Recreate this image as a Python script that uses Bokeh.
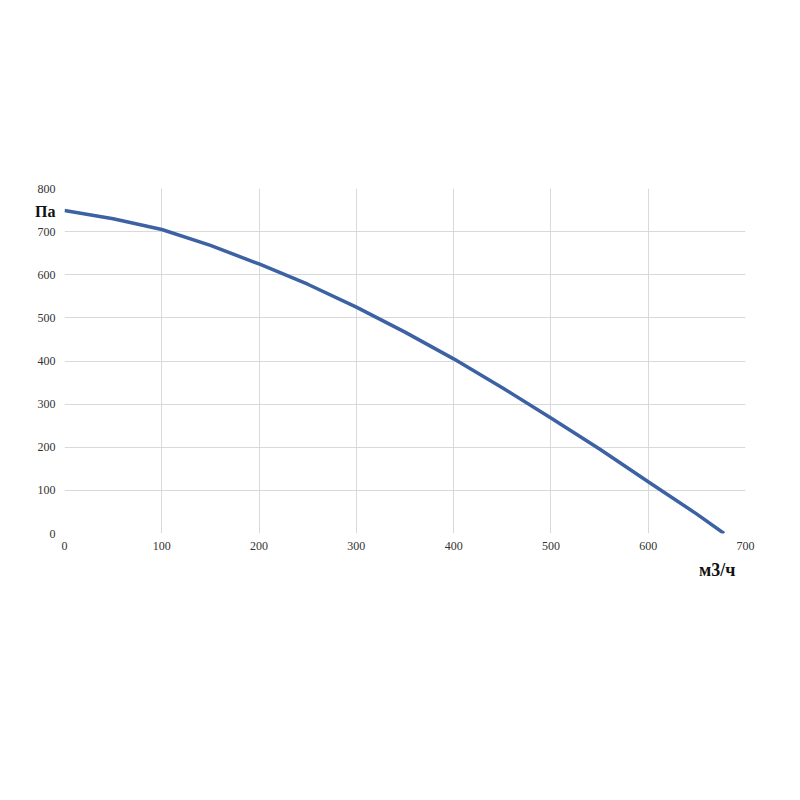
from bokeh.plotting import figure
from bokeh.models import FixedTicker, Range1d, Title, LinearAxis
from bokeh.embed import file_html
from bokeh.resources import INLINE

flow = [0, 50, 100, 150, 200, 250, 300, 350, 400, 450, 500, 550, 600, 650, 678]
pressure = [749, 730, 705, 668, 625, 578, 525, 467, 405, 338, 268, 196, 120, 45, 0]
x_ticks = [0, 100, 200, 300, 400, 500, 600, 700]
y_ticks = [0, 100, 200, 300, 400, 500, 600, 700, 800]
y_unit_label = "Па"
x_unit_label = "м3/ч"

p = figure(width=784, height=784, output_backend="svg", toolbar_location=None,
           x_range=Range1d(0, 700), y_range=Range1d(0, 800),
           min_border_left=64, min_border_right=39, min_border_top=188, min_border_bottom=251)
p.outline_line_color = None
p.background_fill_color = "white"
p.border_fill_color = "white"

p.xaxis.ticker = FixedTicker(ticks=x_ticks)
p.yaxis.ticker = FixedTicker(ticks=y_ticks)
for ax in (p.xaxis[0], p.yaxis[0]):
    ax.axis_line_color = None
    ax.major_tick_line_color = None
    ax.minor_tick_line_color = None
    ax.major_tick_out = 0
    ax.major_tick_in = 0
    ax.minor_tick_out = 0
    ax.major_label_text_font = "Liberation Serif"
    ax.major_label_text_font_size = "12px"
    ax.major_label_text_color = "#333333"
p.yaxis.major_label_standoff = 9
p.xaxis.major_label_standoff = 8

p.xgrid.grid_line_color = "#d9d9d9"
p.ygrid.grid_line_color = "#d9d9d9"

p.line(flow, pressure, line_color="#3c62a3", line_width=3.5)

# unit label for the y axis, drawn as the only tick label of a second left axis
unit_axis = LinearAxis(ticker=FixedTicker(ticks=[747]),
                       major_label_overrides={747: y_unit_label})
unit_axis.axis_line_color = None
unit_axis.major_tick_line_color = None
unit_axis.minor_tick_line_color = None
unit_axis.major_tick_out = 0
unit_axis.major_tick_in = 0
unit_axis.minor_tick_out = 0
unit_axis.major_label_standoff = -21
unit_axis.major_label_text_font = "Liberation Serif"
unit_axis.major_label_text_font_size = "16px"
unit_axis.major_label_text_font_style = "bold"
unit_axis.major_label_text_color = "#111111"
p.add_layout(unit_axis, "left")

p.add_layout(Title(text=x_unit_label, align="right", offset=10, text_font="Liberation Serif",
                   text_font_size="18px", text_font_style="bold", text_color="#111111"), "below")

open("out.html", "w").write(file_html(p, INLINE))
